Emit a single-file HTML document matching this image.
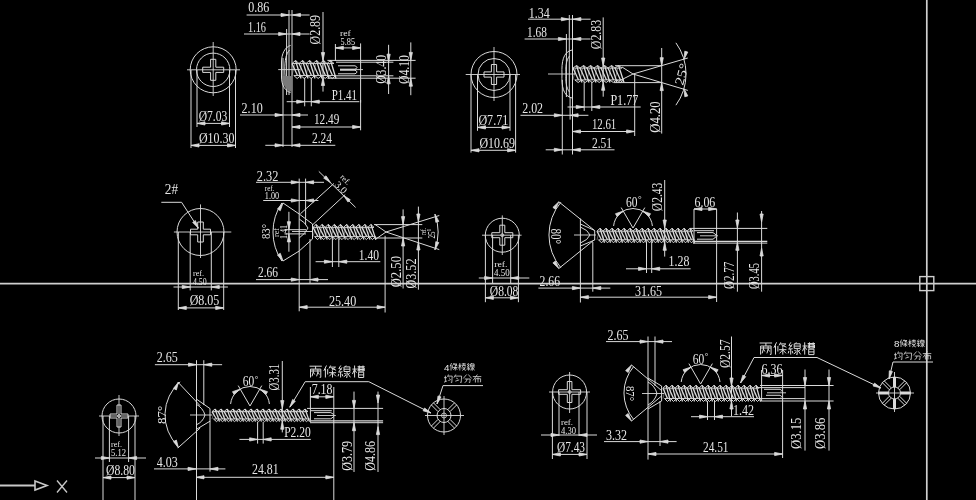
<!DOCTYPE html>
<html><head><meta charset="utf-8"><style>
html,body{margin:0;padding:0;background:#000;width:976px;height:500px;overflow:hidden}
svg{display:block;filter:grayscale(100%)}
text{font-family:"Liberation Serif",serif;fill:#e6e6e6;stroke:none}
</style></head><body>
<svg width="976" height="500" viewBox="0 0 976 500">
<rect width="976" height="500" fill="#000"/>
<g stroke="#dadada" stroke-width="1" fill="none" stroke-linecap="butt">
<g stroke="#cfcfcf" stroke-width="1.7">
<line x1="0" y1="283.7" x2="976" y2="283.7" stroke-width="1.7"/>
<line x1="926.8" y1="0" x2="926.8" y2="500" stroke-width="1.7"/>
<rect x="919.8" y="276.6" width="14" height="14" fill="none" stroke-width="1.4"/>
</g>
<g stroke="#c8c8c8" stroke-width="1.6">
<line x1="0" y1="485.5" x2="35" y2="485.5" stroke-width="2"/>
<path d="M35 481 L47 485.5 L35 490Z"/>
<line x1="57" y1="480.5" x2="67" y2="492.5" stroke-width="1.3"/>
<line x1="67" y1="480.5" x2="57" y2="492.5" stroke-width="1.3"/>
</g>
<circle cx="213.2" cy="69.8" r="23"/>
<circle cx="213.2" cy="69.8" r="16.7"/>
<line x1="187" y1="69.8" x2="240" y2="69.8" stroke-width="0.9"/>
<line x1="213.2" y1="42" x2="213.2" y2="96" stroke-width="0.9"/>
<path d="M210.6 59.3 L215.8 59.3 L215.8 67.2 L223.7 67.2 L223.7 72.4 L215.8 72.4 L215.8 80.3 L210.6 80.3 L210.6 72.4 L202.7 72.4 L202.7 67.2 L210.6 67.2Z"/>
<line x1="191" y1="70" x2="191" y2="148"/>
<line x1="235.5" y1="70" x2="235.5" y2="148"/>
<line x1="197" y1="70" x2="197" y2="127"/>
<line x1="229.5" y1="70" x2="229.5" y2="127"/>
<line x1="197" y1="123.4" x2="229.5" y2="123.4"/>
<path d="M197 123.4 L205 121.8 L205 125Z" fill="#dadada" stroke-width="0.8"/>
<path d="M229.5 123.4 L221.5 125 L221.5 121.8Z" fill="#dadada" stroke-width="0.8"/>
<text x="198.7" y="120.8" font-size="14" textLength="28.6" lengthAdjust="spacingAndGlyphs">Ø7.03</text>
<line x1="191" y1="145.4" x2="235.5" y2="145.4"/>
<path d="M191 145.4 L199 143.8 L199 147Z" fill="#dadada" stroke-width="0.8"/>
<path d="M235.5 145.4 L227.5 147 L227.5 143.8Z" fill="#dadada" stroke-width="0.8"/>
<text x="199" y="143.4" font-size="14" textLength="35.5" lengthAdjust="spacingAndGlyphs">Ø10.30</text>
<text x="248.2" y="12.4" font-size="14" textLength="21" lengthAdjust="spacingAndGlyphs">0.86</text>
<line x1="246.6" y1="15" x2="309.6" y2="15"/>
<path d="M289 15 L281 16.6 L281 13.4Z" fill="#dadada" stroke-width="0.8"/>
<path d="M292.5 15 L300.5 13.4 L300.5 16.6Z" fill="#dadada" stroke-width="0.8"/>
<text x="248" y="31.8" font-size="14" textLength="18" lengthAdjust="spacingAndGlyphs">1.16</text>
<line x1="244" y1="34" x2="309.6" y2="34"/>
<path d="M286.6 34 L278.6 35.6 L278.6 32.4Z" fill="#dadada" stroke-width="0.8"/>
<path d="M292 34 L300 32.4 L300 35.6Z" fill="#dadada" stroke-width="0.8"/>
<line x1="289" y1="10" x2="289" y2="95"/>
<line x1="292" y1="10" x2="292" y2="147"/>
<line x1="286.6" y1="29" x2="286.6" y2="95"/>
<line x1="283" y1="58" x2="283" y2="147"/>
<path d="M290.6 45.4 C 285 47, 281.5 54, 281.5 62 L281.5 77 C 281.5 85, 285 91, 290.6 92.6" />
<path d="M289.5 50 C 286 54, 284.8 60, 284.8 69.6 C 284.8 79, 286 85, 289.5 89" />
<path d="M282.5 76 C 282.5 84, 285 89.5, 290 91.5 L292 91.5 L292 76 L289 76 Z" fill="#7a7a7a" stroke="none"/>
<line x1="278.2" y1="69.6" x2="300" y2="69.6" stroke-width="0.9"/>
<path d="M292 63.5 L295.5 60.5 L299 63.5 L302.5 60.5 L306 63.5 L309.5 60.5 L313 63.5 L316.5 60.5 L320 63.5 L323.5 60.5 L327 63.5 L330.5 60.5 L334 63.5"/>
<path d="M293.8 75.5 L297.2 78.5 L300.8 75.5 L304.2 78.5 L307.8 75.5 L311.2 78.5 L314.8 75.5 L318.2 78.5 L321.8 75.5 L325.2 78.5 L328.8 75.5 L332.2 78.5 L335.8 75.5"/>
<line x1="292" y1="63.5" x2="334" y2="63.5" stroke-width="0.9"/>
<line x1="293.8" y1="75.5" x2="335.8" y2="75.5" stroke-width="0.9"/>
<line x1="295.5" y1="60.5" x2="301" y2="78.5" stroke-width="1.3"/>
<line x1="292" y1="63.5" x2="297.5" y2="75.5" stroke-width="1.3"/>
<line x1="294.8" y1="63.5" x2="292" y2="75.5" stroke-width="0.8" opacity="0.55"/>
<line x1="302.5" y1="60.5" x2="308" y2="78.5" stroke-width="1.3"/>
<line x1="299" y1="63.5" x2="304.5" y2="75.5" stroke-width="1.3"/>
<line x1="301.8" y1="63.5" x2="299" y2="75.5" stroke-width="0.8" opacity="0.55"/>
<line x1="309.5" y1="60.5" x2="315" y2="78.5" stroke-width="1.3"/>
<line x1="306" y1="63.5" x2="311.5" y2="75.5" stroke-width="1.3"/>
<line x1="308.8" y1="63.5" x2="306" y2="75.5" stroke-width="0.8" opacity="0.55"/>
<line x1="316.5" y1="60.5" x2="322" y2="78.5" stroke-width="1.3"/>
<line x1="313" y1="63.5" x2="318.5" y2="75.5" stroke-width="1.3"/>
<line x1="315.8" y1="63.5" x2="313" y2="75.5" stroke-width="0.8" opacity="0.55"/>
<line x1="323.5" y1="60.5" x2="329" y2="78.5" stroke-width="1.3"/>
<line x1="320" y1="63.5" x2="325.5" y2="75.5" stroke-width="1.3"/>
<line x1="322.8" y1="63.5" x2="320" y2="75.5" stroke-width="0.8" opacity="0.55"/>
<line x1="330.5" y1="60.5" x2="336" y2="78.5" stroke-width="1.3"/>
<line x1="327" y1="63.5" x2="332.5" y2="75.5" stroke-width="1.3"/>
<line x1="329.8" y1="63.5" x2="327" y2="75.5" stroke-width="0.8" opacity="0.55"/>
<line x1="327.4" y1="60.4" x2="415.6" y2="60.4"/>
<line x1="327.4" y1="78.2" x2="415.6" y2="78.2"/>
<line x1="336" y1="62.2" x2="393.4" y2="62.2"/>
<line x1="336" y1="75.8" x2="393.4" y2="75.8"/>
<path d="M338 65.8 L355 65.8 Q359 67.5 355 69.2 L340 69.2" />
<path d="M340 70.2 L355 70.2 Q359 72 355 73.8 L338 73.8" />
<line x1="340" y1="69.6" x2="363" y2="69.6" stroke-width="0.9"/>
<line x1="304.7" y1="78" x2="304.7" y2="106.3"/>
<line x1="311.3" y1="78" x2="311.3" y2="106.3"/>
<line x1="286.7" y1="101.7" x2="359.3" y2="101.7"/>
<path d="M304.7 101.7 L296.7 103.3 L296.7 100.1Z" fill="#dadada" stroke-width="0.8"/>
<path d="M311.3 101.7 L319.3 100.1 L319.3 103.3Z" fill="#dadada" stroke-width="0.8"/>
<text x="331.8" y="100" font-size="14" textLength="25.2" lengthAdjust="spacingAndGlyphs">P1.41</text>
<line x1="323" y1="12" x2="323" y2="91.6"/>
<path d="M323 60.5 L321.4 52.5 L324.6 52.5Z" fill="#dadada" stroke-width="0.8"/>
<path d="M323 77.5 L324.6 85.5 L321.4 85.5Z" fill="#dadada" stroke-width="0.8"/>
<text transform="translate(319.8 44.4) rotate(-90)" font-size="14" textLength="29.4" lengthAdjust="spacingAndGlyphs">Ø2.89</text>
<text x="339.9" y="36" font-size="9" textLength="10.8" lengthAdjust="spacingAndGlyphs">ref</text>
<text x="340.6" y="45.4" font-size="11" textLength="14.4" lengthAdjust="spacingAndGlyphs">5.85</text>
<line x1="335.4" y1="44" x2="335.4" y2="61"/>
<line x1="360.6" y1="43.4" x2="360.6" y2="102.7"/>
<line x1="335.4" y1="47.9" x2="360.6" y2="47.9"/>
<path d="M335.4 47.9 L343.4 46.3 L343.4 49.5Z" fill="#dadada" stroke-width="0.8"/>
<path d="M360.6 47.9 L352.6 49.5 L352.6 46.3Z" fill="#dadada" stroke-width="0.8"/>
<line x1="388.6" y1="44.8" x2="388.6" y2="94"/>
<path d="M388.6 62.2 L387 54.2 L390.2 54.2Z" fill="#dadada" stroke-width="0.8"/>
<path d="M388.6 75.8 L390.2 83.8 L387 83.8Z" fill="#dadada" stroke-width="0.8"/>
<text transform="translate(386.1 83.8) rotate(-90)" font-size="14" textLength="28.8" lengthAdjust="spacingAndGlyphs">Ø3.40</text>
<line x1="410.8" y1="42.4" x2="410.8" y2="95.2"/>
<path d="M410.8 60.4 L409.2 52.4 L412.4 52.4Z" fill="#dadada" stroke-width="0.8"/>
<path d="M410.8 78.2 L412.4 86.2 L409.2 86.2Z" fill="#dadada" stroke-width="0.8"/>
<text transform="translate(408.9 84) rotate(-90)" font-size="14" textLength="29" lengthAdjust="spacingAndGlyphs">Ø4.10</text>
<text x="241.6" y="113" font-size="14" textLength="21.1" lengthAdjust="spacingAndGlyphs">2.10</text>
<line x1="240" y1="115" x2="308" y2="115"/>
<path d="M283 115 L275 116.6 L275 113.4Z" fill="#dadada" stroke-width="0.8"/>
<path d="M292 115 L300 113.4 L300 116.6Z" fill="#dadada" stroke-width="0.8"/>
<text x="314" y="124.3" font-size="14" textLength="25.3" lengthAdjust="spacingAndGlyphs">12.49</text>
<line x1="292" y1="127" x2="360.6" y2="127"/>
<path d="M292 127 L300 125.4 L300 128.6Z" fill="#dadada" stroke-width="0.8"/>
<path d="M360.6 127 L352.6 128.6 L352.6 125.4Z" fill="#dadada" stroke-width="0.8"/>
<line x1="360.6" y1="100" x2="360.6" y2="130.3"/>
<text x="312" y="143.4" font-size="14" textLength="20" lengthAdjust="spacingAndGlyphs">2.24</text>
<line x1="265.3" y1="145.3" x2="335.3" y2="145.3"/>
<path d="M283 145.3 L275 146.9 L275 143.7Z" fill="#dadada" stroke-width="0.8"/>
<path d="M292 145.3 L300 143.7 L300 146.9Z" fill="#dadada" stroke-width="0.8"/>
<circle cx="494" cy="74.5" r="23"/>
<circle cx="494" cy="74.5" r="16"/>
<line x1="465.7" y1="74.5" x2="520" y2="74.5" stroke-width="0.9"/>
<line x1="494" y1="47" x2="494" y2="101" stroke-width="0.9"/>
<path d="M491.4 64.5 L496.6 64.5 L496.6 71.9 L504 71.9 L504 77.1 L496.6 77.1 L496.6 84.5 L491.4 84.5 L491.4 77.1 L484 77.1 L484 71.9 L491.4 71.9Z"/>
<line x1="471" y1="74.5" x2="471" y2="152.6"/>
<line x1="515.6" y1="74.5" x2="515.6" y2="152.6"/>
<line x1="477.5" y1="74.5" x2="477.5" y2="130.8"/>
<line x1="510" y1="74.5" x2="510" y2="130.8"/>
<line x1="477.5" y1="127.4" x2="510" y2="127.4"/>
<path d="M477.5 127.4 L485.5 125.8 L485.5 129Z" fill="#dadada" stroke-width="0.8"/>
<path d="M510 127.4 L502 129 L502 125.8Z" fill="#dadada" stroke-width="0.8"/>
<text x="478.4" y="125" font-size="14" textLength="29.9" lengthAdjust="spacingAndGlyphs">Ø7.71</text>
<line x1="471" y1="150.3" x2="515.6" y2="150.3"/>
<path d="M471 150.3 L479 148.7 L479 151.9Z" fill="#dadada" stroke-width="0.8"/>
<path d="M515.6 150.3 L507.6 151.9 L507.6 148.7Z" fill="#dadada" stroke-width="0.8"/>
<text x="479.5" y="148" font-size="14" textLength="35.5" lengthAdjust="spacingAndGlyphs">Ø10.69</text>
<text x="528.8" y="17.8" font-size="14" textLength="21" lengthAdjust="spacingAndGlyphs">1.34</text>
<line x1="528" y1="19.2" x2="590.6" y2="19.2"/>
<path d="M569.3 19.2 L561.3 20.8 L561.3 17.6Z" fill="#dadada" stroke-width="0.8"/>
<path d="M572.9 19.2 L580.9 17.6 L580.9 20.8Z" fill="#dadada" stroke-width="0.8"/>
<text x="527" y="36.6" font-size="14" textLength="19.8" lengthAdjust="spacingAndGlyphs">1.68</text>
<line x1="524.6" y1="39" x2="590.6" y2="39"/>
<path d="M566.4 39 L558.4 40.6 L558.4 37.4Z" fill="#dadada" stroke-width="0.8"/>
<path d="M572.9 39 L580.9 37.4 L580.9 40.6Z" fill="#dadada" stroke-width="0.8"/>
<line x1="569.3" y1="15" x2="569.3" y2="97"/>
<line x1="572.5" y1="15" x2="572.5" y2="154.5"/>
<line x1="566.4" y1="34" x2="566.4" y2="97"/>
<line x1="562.3" y1="80" x2="562.3" y2="154.5"/>
<path d="M572 50 C 563 52, 561.5 62, 562 74 C 561.5 86, 563 96, 572 98" />
<path d="M569.5 56 C 566 60, 565.5 68, 566 74 C 565.5 80, 566 88, 569.5 92" />
<line x1="548" y1="74" x2="575" y2="74" stroke-width="0.9"/>
<line x1="622" y1="67" x2="633" y2="74"/>
<line x1="619" y1="81" x2="633" y2="74"/>
<path d="M573 68.1 L576.5 65.5 L580 68.1 L583.5 65.5 L587 68.1 L590.5 65.5 L594 68.1 L597.5 65.5 L601 68.1 L604.5 65.5 L608 68.1 L611.5 65.5 L615 68.1 L618.5 65.5 L622 68.1"/>
<path d="M574.8 79.9 L578.2 82.5 L581.8 79.9 L585.2 82.5 L588.8 79.9 L592.2 82.5 L595.8 79.9 L599.2 82.5 L602.8 79.9 L606.2 82.5 L609.8 79.9 L613.2 82.5 L616.8 79.9 L620.2 82.5 L623.8 79.9"/>
<line x1="573" y1="68.1" x2="622" y2="68.1" stroke-width="0.9"/>
<line x1="574.8" y1="79.9" x2="623.8" y2="79.9" stroke-width="0.9"/>
<line x1="576.5" y1="65.5" x2="582" y2="82.5" stroke-width="1.3"/>
<line x1="573" y1="68.1" x2="578.5" y2="79.9" stroke-width="1.3"/>
<line x1="575.8" y1="68.1" x2="573" y2="79.9" stroke-width="0.8" opacity="0.55"/>
<line x1="583.5" y1="65.5" x2="589" y2="82.5" stroke-width="1.3"/>
<line x1="580" y1="68.1" x2="585.5" y2="79.9" stroke-width="1.3"/>
<line x1="582.8" y1="68.1" x2="580" y2="79.9" stroke-width="0.8" opacity="0.55"/>
<line x1="590.5" y1="65.5" x2="596" y2="82.5" stroke-width="1.3"/>
<line x1="587" y1="68.1" x2="592.5" y2="79.9" stroke-width="1.3"/>
<line x1="589.8" y1="68.1" x2="587" y2="79.9" stroke-width="0.8" opacity="0.55"/>
<line x1="597.5" y1="65.5" x2="603" y2="82.5" stroke-width="1.3"/>
<line x1="594" y1="68.1" x2="599.5" y2="79.9" stroke-width="1.3"/>
<line x1="596.8" y1="68.1" x2="594" y2="79.9" stroke-width="0.8" opacity="0.55"/>
<line x1="604.5" y1="65.5" x2="610" y2="82.5" stroke-width="1.3"/>
<line x1="601" y1="68.1" x2="606.5" y2="79.9" stroke-width="1.3"/>
<line x1="603.8" y1="68.1" x2="601" y2="79.9" stroke-width="0.8" opacity="0.55"/>
<line x1="611.5" y1="65.5" x2="617" y2="82.5" stroke-width="1.3"/>
<line x1="608" y1="68.1" x2="613.5" y2="79.9" stroke-width="1.3"/>
<line x1="610.8" y1="68.1" x2="608" y2="79.9" stroke-width="0.8" opacity="0.55"/>
<line x1="618.5" y1="65.5" x2="624" y2="82.5" stroke-width="1.3"/>
<line x1="615" y1="68.1" x2="620.5" y2="79.9" stroke-width="1.3"/>
<line x1="617.8" y1="68.1" x2="615" y2="79.9" stroke-width="0.8" opacity="0.55"/>
<line x1="633" y1="74" x2="687.8" y2="58"/>
<line x1="633" y1="74" x2="687.8" y2="90.4"/>
<line x1="615" y1="65.7" x2="661.7" y2="65.7"/>
<line x1="614" y1="82.6" x2="661.7" y2="82.6"/>
<line x1="634.7" y1="74" x2="634.7" y2="136"/>
<line x1="661.7" y1="48" x2="661.7" y2="133.6"/>
<path d="M661.7 65.7 L660.1 57.7 L663.3 57.7Z" fill="#dadada" stroke-width="0.8"/>
<path d="M661.7 82.6 L663.3 90.6 L660.1 90.6Z" fill="#dadada" stroke-width="0.8"/>
<text transform="translate(660.2 132.7) rotate(-90)" font-size="14" textLength="31.4" lengthAdjust="spacingAndGlyphs">Ø4.20</text>
<line x1="603.2" y1="17.4" x2="603.2" y2="96.7"/>
<path d="M603.2 66 L601.6 58 L604.8 58Z" fill="#dadada" stroke-width="0.8"/>
<path d="M603.2 82.3 L604.8 90.3 L601.6 90.3Z" fill="#dadada" stroke-width="0.8"/>
<text transform="translate(601.4 49.2) rotate(-90)" font-size="14" textLength="29.4" lengthAdjust="spacingAndGlyphs">Ø2.83</text>
<path d="M675.9 42.8 A53 53 0 0 1 675.9 105.2"/>
<path d="M684 59.3 L684.8 51.2 L687.8 52.1Z" fill="#dadada" stroke-width="0.8"/>
<path d="M684 88.7 L687.8 95.9 L684.8 96.8Z" fill="#dadada" stroke-width="0.8"/>
<text transform="translate(683 86) rotate(-75)" font-size="13" textLength="22" lengthAdjust="spacingAndGlyphs">25°</text>
<line x1="584.2" y1="82" x2="584.2" y2="111"/>
<line x1="591.8" y1="82" x2="591.8" y2="111"/>
<line x1="567.5" y1="107" x2="640.7" y2="107"/>
<path d="M584.2 107 L576.2 108.6 L576.2 105.4Z" fill="#dadada" stroke-width="0.8"/>
<path d="M591.8 107 L599.8 105.4 L599.8 108.6Z" fill="#dadada" stroke-width="0.8"/>
<text x="610.4" y="104.8" font-size="14" textLength="27.9" lengthAdjust="spacingAndGlyphs">P1.77</text>
<line x1="572.5" y1="131.5" x2="634.6" y2="131.5"/>
<path d="M572.5 131.5 L580.5 129.9 L580.5 133.1Z" fill="#dadada" stroke-width="0.8"/>
<path d="M634.6 131.5 L626.6 133.1 L626.6 129.9Z" fill="#dadada" stroke-width="0.8"/>
<text x="591.9" y="129.2" font-size="14" textLength="24.4" lengthAdjust="spacingAndGlyphs">12.61</text>
<text x="522.2" y="112.6" font-size="14" textLength="20.9" lengthAdjust="spacingAndGlyphs">2.02</text>
<line x1="520.5" y1="115.3" x2="588.4" y2="115.3"/>
<path d="M562.3 115.3 L554.3 116.9 L554.3 113.7Z" fill="#dadada" stroke-width="0.8"/>
<path d="M570.1 115.3 L578.1 113.7 L578.1 116.9Z" fill="#dadada" stroke-width="0.8"/>
<line x1="570.1" y1="97" x2="570.1" y2="119.6"/>
<text x="591.9" y="147.5" font-size="14" textLength="20.1" lengthAdjust="spacingAndGlyphs">2.51</text>
<line x1="545.7" y1="149.8" x2="614.5" y2="149.8"/>
<path d="M562.3 149.8 L554.3 151.4 L554.3 148.2Z" fill="#dadada" stroke-width="0.8"/>
<path d="M572.4 149.8 L580.4 148.2 L580.4 151.4Z" fill="#dadada" stroke-width="0.8"/>
<circle cx="200.5" cy="232" r="23.5"/>
<line x1="173.9" y1="232" x2="231.3" y2="232" stroke-width="0.9"/>
<line x1="200.5" y1="204.4" x2="200.5" y2="258" stroke-width="0.9"/>
<path d="M197.7 222 L203.3 222 L203.3 229.2 L210.5 229.2 L210.5 234.8 L203.3 234.8 L203.3 242 L197.7 242 L197.7 234.8 L190.5 234.8 L190.5 229.2 L197.7 229.2Z"/>
<text x="164.8" y="193.9" font-size="14" textLength="13.3" lengthAdjust="spacingAndGlyphs">2#</text>
<path d="M161.3 202.3 L181.6 202.3 L198.4 228.2"/>
<path d="M198.4 228.2 L192.7 222.4 L195.4 220.6Z" fill="#dadada" stroke-width="0.8"/>
<line x1="178.3" y1="232" x2="178.3" y2="310"/>
<line x1="223.7" y1="232" x2="223.7" y2="310"/>
<line x1="190.2" y1="232" x2="190.2" y2="290.4"/>
<line x1="211.3" y1="232" x2="211.3" y2="290.4"/>
<text x="193" y="275.9" font-size="9" textLength="11.1" lengthAdjust="spacingAndGlyphs">ref.</text>
<text x="193" y="284.8" font-size="10" textLength="13.7" lengthAdjust="spacingAndGlyphs">4.50</text>
<line x1="173.5" y1="287" x2="227.9" y2="287"/>
<path d="M190.2 287 L182.2 288.6 L182.2 285.4Z" fill="#dadada" stroke-width="0.8"/>
<path d="M211.3 287 L219.3 285.4 L219.3 288.6Z" fill="#dadada" stroke-width="0.8"/>
<text x="189.7" y="304.8" font-size="14" textLength="29.7" lengthAdjust="spacingAndGlyphs">Ø8.05</text>
<line x1="178.3" y1="307.9" x2="223.7" y2="307.9"/>
<path d="M178.3 307.9 L186.3 306.3 L186.3 309.5Z" fill="#dadada" stroke-width="0.8"/>
<path d="M223.7 307.9 L215.7 309.5 L215.7 306.3Z" fill="#dadada" stroke-width="0.8"/>
<text x="256.8" y="180.7" font-size="14" textLength="21.6" lengthAdjust="spacingAndGlyphs">2.32</text>
<line x1="256" y1="182.3" x2="324" y2="182.3"/>
<path d="M299.2 182.3 L291.2 183.9 L291.2 180.7Z" fill="#dadada" stroke-width="0.8"/>
<path d="M305.6 182.3 L313.6 180.7 L313.6 183.9Z" fill="#dadada" stroke-width="0.8"/>
<line x1="299.2" y1="178.6" x2="299.2" y2="311.3"/>
<line x1="305.6" y1="178.6" x2="305.6" y2="225"/>
<text x="264.8" y="190.6" font-size="9" textLength="9.6" lengthAdjust="spacingAndGlyphs">ref.</text>
<text x="264.8" y="198.9" font-size="10" textLength="14.4" lengthAdjust="spacingAndGlyphs">1.00</text>
<line x1="263.2" y1="200.5" x2="318.4" y2="200.5"/>
<path d="M299.2 200.5 L291.2 202.1 L291.2 198.9Z" fill="#dadada" stroke-width="0.8"/>
<path d="M305.6 200.5 L313.6 198.9 L313.6 202.1Z" fill="#dadada" stroke-width="0.8"/>
<path d="M299.2 214 L312.5 224 L312.5 239 L299.2 251"/>
<path d="M299.2 219 Q305 222 308 228 Q305 234 299.2 238" />
<line x1="292" y1="231.5" x2="312" y2="231.5" stroke-width="0.9"/>
<path d="M281.9 261.1 A52 52 0 0 1 281.9 202.9"/>
<line x1="283" y1="203" x2="299.2" y2="214"/>
<line x1="283" y1="261" x2="299.2" y2="251"/>
<path d="M283 203 L280.3 210.7 L277.5 209Z" fill="#dadada" stroke-width="0.8"/>
<path d="M283 261 L277.5 255 L280.3 253.3Z" fill="#dadada" stroke-width="0.8"/>
<text transform="translate(269.8 239) rotate(-90)" font-size="13" textLength="15" lengthAdjust="spacingAndGlyphs">83°</text>
<line x1="288.9" y1="211.8" x2="288.9" y2="251.7"/>
<path d="M288.9 229.7 L287.3 221.7 L290.5 221.7Z" fill="#dadada" stroke-width="0.8"/>
<path d="M288.9 233.9 L290.5 241.9 L287.3 241.9Z" fill="#dadada" stroke-width="0.8"/>
<line x1="284.5" y1="229.7" x2="306" y2="229.7"/>
<line x1="284.5" y1="233.9" x2="306" y2="233.9"/>
<text transform="translate(279 237) rotate(-90)" font-size="9" textLength="9" lengthAdjust="spacingAndGlyphs">ref</text>
<text transform="translate(286.5 239) rotate(-90)" font-size="10" textLength="14" lengthAdjust="spacingAndGlyphs">1.41</text>
<line x1="300.4" y1="213.8" x2="334" y2="183.4"/>
<line x1="312.4" y1="225" x2="345.2" y2="194.6"/>
<line x1="318.8" y1="171.4" x2="355.6" y2="207.4"/>
<path d="M330.5 182.6 L323.7 178.1 L326 175.8Z" fill="#dadada" stroke-width="0.8"/>
<path d="M343.5 195.3 L350.3 199.8 L348 202.1Z" fill="#dadada" stroke-width="0.8"/>
<text transform="translate(339.7 177.5) rotate(45)" font-size="8" textLength="11" lengthAdjust="spacingAndGlyphs">ref.</text>
<text transform="translate(334.1 185.3) rotate(45)" font-size="10" textLength="13" lengthAdjust="spacingAndGlyphs">3.0</text>
<path d="M313 227.4 L316.1 224.4 L319.1 227.4 L322.2 224.4 L325.2 227.4 L328.2 224.4 L331.3 227.4 L334.4 224.4 L337.4 227.4 L340.4 224.4 L343.5 227.4 L346.6 224.4 L349.6 227.4 L352.7 224.4 L355.7 227.4 L358.8 224.4 L361.8 227.4 L364.9 224.4 L367.9 227.4 L370.9 224.4 L374 227.4"/>
<path d="M314.5 236.6 L317.6 239.6 L320.6 236.6 L323.7 239.6 L326.7 236.6 L329.8 239.6 L332.8 236.6 L335.9 239.6 L338.9 236.6 L342 239.6 L345 236.6 L348.1 239.6 L351.1 236.6 L354.2 239.6 L357.2 236.6 L360.3 239.6 L363.3 236.6 L366.4 239.6 L369.4 236.6 L372.5 239.6 L375.5 236.6"/>
<line x1="313" y1="227.4" x2="374" y2="227.4" stroke-width="0.9"/>
<line x1="314.5" y1="236.6" x2="375.5" y2="236.6" stroke-width="0.9"/>
<line x1="316.1" y1="224.4" x2="321.1" y2="239.6" stroke-width="1.3"/>
<line x1="313" y1="227.4" x2="318" y2="236.6" stroke-width="1.3"/>
<line x1="315.5" y1="227.4" x2="313" y2="236.6" stroke-width="0.8" opacity="0.55"/>
<line x1="322.2" y1="224.4" x2="327.2" y2="239.6" stroke-width="1.3"/>
<line x1="319.1" y1="227.4" x2="324.1" y2="236.6" stroke-width="1.3"/>
<line x1="321.6" y1="227.4" x2="319.1" y2="236.6" stroke-width="0.8" opacity="0.55"/>
<line x1="328.2" y1="224.4" x2="333.2" y2="239.6" stroke-width="1.3"/>
<line x1="325.2" y1="227.4" x2="330.2" y2="236.6" stroke-width="1.3"/>
<line x1="327.7" y1="227.4" x2="325.2" y2="236.6" stroke-width="0.8" opacity="0.55"/>
<line x1="334.4" y1="224.4" x2="339.4" y2="239.6" stroke-width="1.3"/>
<line x1="331.3" y1="227.4" x2="336.3" y2="236.6" stroke-width="1.3"/>
<line x1="333.8" y1="227.4" x2="331.3" y2="236.6" stroke-width="0.8" opacity="0.55"/>
<line x1="340.4" y1="224.4" x2="345.4" y2="239.6" stroke-width="1.3"/>
<line x1="337.4" y1="227.4" x2="342.4" y2="236.6" stroke-width="1.3"/>
<line x1="339.9" y1="227.4" x2="337.4" y2="236.6" stroke-width="0.8" opacity="0.55"/>
<line x1="346.6" y1="224.4" x2="351.6" y2="239.6" stroke-width="1.3"/>
<line x1="343.5" y1="227.4" x2="348.5" y2="236.6" stroke-width="1.3"/>
<line x1="346" y1="227.4" x2="343.5" y2="236.6" stroke-width="0.8" opacity="0.55"/>
<line x1="352.7" y1="224.4" x2="357.7" y2="239.6" stroke-width="1.3"/>
<line x1="349.6" y1="227.4" x2="354.6" y2="236.6" stroke-width="1.3"/>
<line x1="352.1" y1="227.4" x2="349.6" y2="236.6" stroke-width="0.8" opacity="0.55"/>
<line x1="358.8" y1="224.4" x2="363.8" y2="239.6" stroke-width="1.3"/>
<line x1="355.7" y1="227.4" x2="360.7" y2="236.6" stroke-width="1.3"/>
<line x1="358.2" y1="227.4" x2="355.7" y2="236.6" stroke-width="0.8" opacity="0.55"/>
<line x1="364.9" y1="224.4" x2="369.9" y2="239.6" stroke-width="1.3"/>
<line x1="361.8" y1="227.4" x2="366.8" y2="236.6" stroke-width="1.3"/>
<line x1="364.3" y1="227.4" x2="361.8" y2="236.6" stroke-width="0.8" opacity="0.55"/>
<line x1="370.9" y1="224.4" x2="375.9" y2="239.6" stroke-width="1.3"/>
<line x1="367.9" y1="227.4" x2="372.9" y2="236.6" stroke-width="1.3"/>
<line x1="370.4" y1="227.4" x2="367.9" y2="236.6" stroke-width="0.8" opacity="0.55"/>
<line x1="375" y1="224.4" x2="386" y2="232"/>
<line x1="375" y1="239.6" x2="386" y2="232"/>
<line x1="386" y1="232" x2="439.3" y2="215.5"/>
<line x1="386" y1="232" x2="439.3" y2="249.6"/>
<line x1="374" y1="224.6" x2="422.3" y2="224.6"/>
<line x1="374" y1="238" x2="422.3" y2="238"/>
<path d="M434.9 214.2 A52 52 0 0 1 434.9 249.8"/>
<path d="M435 214.2 L438.8 221.4 L435.8 222.3Z" fill="#dadada" stroke-width="0.8"/>
<path d="M435 249.8 L435.8 241.7 L438.8 242.6Z" fill="#dadada" stroke-width="0.8"/>
<text transform="translate(426.4 235) rotate(-90)" font-size="8" textLength="7" lengthAdjust="spacingAndGlyphs">ref.</text>
<text transform="translate(435.4 238.5) rotate(-90)" font-size="11" textLength="9.9" lengthAdjust="spacingAndGlyphs">25°</text>
<line x1="403.1" y1="209.4" x2="403.1" y2="288.5"/>
<path d="M403.1 224.6 L401.5 216.6 L404.7 216.6Z" fill="#dadada" stroke-width="0.8"/>
<path d="M403.1 238 L404.7 246 L401.5 246Z" fill="#dadada" stroke-width="0.8"/>
<text transform="translate(400.8 287.3) rotate(-90)" font-size="14" textLength="31.3" lengthAdjust="spacingAndGlyphs">Ø2.50</text>
<line x1="418.4" y1="206.6" x2="418.4" y2="289.7"/>
<path d="M418.4 222 L416.8 214 L420 214Z" fill="#dadada" stroke-width="0.8"/>
<path d="M418.4 242 L420 250 L416.8 250Z" fill="#dadada" stroke-width="0.8"/>
<text transform="translate(416.2 288.5) rotate(-90)" font-size="14" textLength="30" lengthAdjust="spacingAndGlyphs">Ø3.52</text>
<text x="358.8" y="259.7" font-size="14" textLength="20.3" lengthAdjust="spacingAndGlyphs">1.40</text>
<line x1="332.4" y1="239" x2="332.4" y2="267"/>
<line x1="338.8" y1="239" x2="338.8" y2="267"/>
<line x1="315.6" y1="261.7" x2="380.3" y2="261.7"/>
<path d="M332.4 261.7 L324.4 263.3 L324.4 260.1Z" fill="#dadada" stroke-width="0.8"/>
<path d="M338.8 261.7 L346.8 260.1 L346.8 263.3Z" fill="#dadada" stroke-width="0.8"/>
<text x="328.9" y="306" font-size="14" textLength="27.3" lengthAdjust="spacingAndGlyphs">25.40</text>
<line x1="385.1" y1="235.8" x2="385.1" y2="312.5"/>
<line x1="299.2" y1="307.2" x2="385.1" y2="307.2"/>
<path d="M299.2 307.2 L307.2 305.6 L307.2 308.8Z" fill="#dadada" stroke-width="0.8"/>
<path d="M385.1 307.2 L377.1 308.8 L377.1 305.6Z" fill="#dadada" stroke-width="0.8"/>
<text x="258" y="277" font-size="14" textLength="20" lengthAdjust="spacingAndGlyphs">2.66</text>
<line x1="310" y1="239" x2="310" y2="283"/>
<line x1="256" y1="279.6" x2="328" y2="279.6"/>
<path d="M299.2 279.6 L291.2 281.2 L291.2 278Z" fill="#dadada" stroke-width="0.8"/>
<path d="M310 279.6 L318 278 L318 281.2Z" fill="#dadada" stroke-width="0.8"/>
<circle cx="502.3" cy="235.2" r="17"/>
<line x1="482" y1="235.2" x2="521.6" y2="235.2" stroke-width="0.9"/>
<line x1="502.3" y1="215.4" x2="502.3" y2="255" stroke-width="0.9"/>
<path d="M499.8 225.2 L504.8 225.2 L504.8 232.7 L512.8 232.7 L512.8 237.7 L504.8 237.7 L504.8 245.2 L499.8 245.2 L499.8 237.7 L491.8 237.7 L491.8 232.7 L499.8 232.7Z"/>
<circle cx="502.3" cy="235.2" r="1.5" stroke-width="0.8"/>
<line x1="485.4" y1="235" x2="485.4" y2="302.2"/>
<line x1="518.4" y1="235" x2="518.4" y2="302.2"/>
<line x1="492.6" y1="235" x2="492.6" y2="283.5"/>
<line x1="510.7" y1="235" x2="510.7" y2="283.5"/>
<text x="494.2" y="267" font-size="9" textLength="13.2" lengthAdjust="spacingAndGlyphs">ref.</text>
<text x="494" y="275.8" font-size="10" textLength="15.6" lengthAdjust="spacingAndGlyphs">4.50</text>
<line x1="478.8" y1="278" x2="529.3" y2="278"/>
<path d="M492.6 278 L484.6 279.6 L484.6 276.4Z" fill="#dadada" stroke-width="0.8"/>
<path d="M510.7 278 L518.7 276.4 L518.7 279.6Z" fill="#dadada" stroke-width="0.8"/>
<text x="489.8" y="295.6" font-size="14" textLength="28.6" lengthAdjust="spacingAndGlyphs">Ø8.08</text>
<line x1="485.4" y1="297.8" x2="518.4" y2="297.8"/>
<path d="M485.4 297.8 L493.4 296.2 L493.4 299.4Z" fill="#dadada" stroke-width="0.8"/>
<path d="M518.4 297.8 L510.4 299.4 L510.4 296.2Z" fill="#dadada" stroke-width="0.8"/>
<line x1="580.4" y1="218.6" x2="580.4" y2="302.5"/>
<path d="M580.4 224 L594.7 230.5 L594.7 240 L580.4 246"/>
<path d="M580.4 227 Q588 230 590 235 Q588 240 580.4 243" />
<line x1="574" y1="235" x2="596" y2="235" stroke-width="0.9"/>
<path d="M560.9 267.8 A51 51 0 0 1 560.9 202.2"/>
<line x1="558.8" y1="201.8" x2="594.7" y2="230.6"/>
<line x1="558.8" y1="268.5" x2="594.7" y2="239.5"/>
<path d="M558.8 201.8 L555.5 209.3 L552.9 207.4Z" fill="#dadada" stroke-width="0.8"/>
<path d="M558.8 268.5 L552.9 262.9 L555.5 261Z" fill="#dadada" stroke-width="0.8"/>
<text transform="translate(551.2 228.5) rotate(90)" font-size="14" textLength="15.5" lengthAdjust="spacingAndGlyphs">80°</text>
<path d="M597 231.2 L600 228.2 L603 231.2 L606 228.2 L609 231.2 L612 228.2 L615 231.2 L618 228.2 L621 231.2 L624 228.2 L627 231.2 L630 228.2 L633 231.2 L636 228.2 L639 231.2 L642 228.2 L645 231.2 L648 228.2 L651 231.2 L654 228.2 L657 231.2 L660 228.2 L663 231.2 L666 228.2 L669 231.2 L672 228.2 L675 231.2 L678 228.2 L681 231.2 L684 228.2 L687 231.2 L690 228.2 L693 231.2"/>
<path d="M598.5 239.8 L601.5 242.8 L604.5 239.8 L607.5 242.8 L610.5 239.8 L613.5 242.8 L616.5 239.8 L619.5 242.8 L622.5 239.8 L625.5 242.8 L628.5 239.8 L631.5 242.8 L634.5 239.8 L637.5 242.8 L640.5 239.8 L643.5 242.8 L646.5 239.8 L649.5 242.8 L652.5 239.8 L655.5 242.8 L658.5 239.8 L661.5 242.8 L664.5 239.8 L667.5 242.8 L670.5 239.8 L673.5 242.8 L676.5 239.8 L679.5 242.8 L682.5 239.8 L685.5 242.8 L688.5 239.8 L691.5 242.8 L694.5 239.8"/>
<line x1="597" y1="231.2" x2="693" y2="231.2" stroke-width="0.9"/>
<line x1="598.5" y1="239.8" x2="694.5" y2="239.8" stroke-width="0.9"/>
<line x1="600" y1="228.2" x2="604.5" y2="242.8" stroke-width="1.3"/>
<line x1="597" y1="231.2" x2="601.5" y2="239.8" stroke-width="1.3"/>
<line x1="599.2" y1="231.2" x2="597" y2="239.8" stroke-width="0.8" opacity="0.55"/>
<line x1="606" y1="228.2" x2="610.5" y2="242.8" stroke-width="1.3"/>
<line x1="603" y1="231.2" x2="607.5" y2="239.8" stroke-width="1.3"/>
<line x1="605.2" y1="231.2" x2="603" y2="239.8" stroke-width="0.8" opacity="0.55"/>
<line x1="612" y1="228.2" x2="616.5" y2="242.8" stroke-width="1.3"/>
<line x1="609" y1="231.2" x2="613.5" y2="239.8" stroke-width="1.3"/>
<line x1="611.2" y1="231.2" x2="609" y2="239.8" stroke-width="0.8" opacity="0.55"/>
<line x1="618" y1="228.2" x2="622.5" y2="242.8" stroke-width="1.3"/>
<line x1="615" y1="231.2" x2="619.5" y2="239.8" stroke-width="1.3"/>
<line x1="617.2" y1="231.2" x2="615" y2="239.8" stroke-width="0.8" opacity="0.55"/>
<line x1="624" y1="228.2" x2="628.5" y2="242.8" stroke-width="1.3"/>
<line x1="621" y1="231.2" x2="625.5" y2="239.8" stroke-width="1.3"/>
<line x1="623.2" y1="231.2" x2="621" y2="239.8" stroke-width="0.8" opacity="0.55"/>
<line x1="630" y1="228.2" x2="634.5" y2="242.8" stroke-width="1.3"/>
<line x1="627" y1="231.2" x2="631.5" y2="239.8" stroke-width="1.3"/>
<line x1="629.2" y1="231.2" x2="627" y2="239.8" stroke-width="0.8" opacity="0.55"/>
<line x1="636" y1="228.2" x2="640.5" y2="242.8" stroke-width="1.3"/>
<line x1="633" y1="231.2" x2="637.5" y2="239.8" stroke-width="1.3"/>
<line x1="635.2" y1="231.2" x2="633" y2="239.8" stroke-width="0.8" opacity="0.55"/>
<line x1="642" y1="228.2" x2="646.5" y2="242.8" stroke-width="1.3"/>
<line x1="639" y1="231.2" x2="643.5" y2="239.8" stroke-width="1.3"/>
<line x1="641.2" y1="231.2" x2="639" y2="239.8" stroke-width="0.8" opacity="0.55"/>
<line x1="648" y1="228.2" x2="652.5" y2="242.8" stroke-width="1.3"/>
<line x1="645" y1="231.2" x2="649.5" y2="239.8" stroke-width="1.3"/>
<line x1="647.2" y1="231.2" x2="645" y2="239.8" stroke-width="0.8" opacity="0.55"/>
<line x1="654" y1="228.2" x2="658.5" y2="242.8" stroke-width="1.3"/>
<line x1="651" y1="231.2" x2="655.5" y2="239.8" stroke-width="1.3"/>
<line x1="653.2" y1="231.2" x2="651" y2="239.8" stroke-width="0.8" opacity="0.55"/>
<line x1="660" y1="228.2" x2="664.5" y2="242.8" stroke-width="1.3"/>
<line x1="657" y1="231.2" x2="661.5" y2="239.8" stroke-width="1.3"/>
<line x1="659.2" y1="231.2" x2="657" y2="239.8" stroke-width="0.8" opacity="0.55"/>
<line x1="666" y1="228.2" x2="670.5" y2="242.8" stroke-width="1.3"/>
<line x1="663" y1="231.2" x2="667.5" y2="239.8" stroke-width="1.3"/>
<line x1="665.2" y1="231.2" x2="663" y2="239.8" stroke-width="0.8" opacity="0.55"/>
<line x1="672" y1="228.2" x2="676.5" y2="242.8" stroke-width="1.3"/>
<line x1="669" y1="231.2" x2="673.5" y2="239.8" stroke-width="1.3"/>
<line x1="671.2" y1="231.2" x2="669" y2="239.8" stroke-width="0.8" opacity="0.55"/>
<line x1="678" y1="228.2" x2="682.5" y2="242.8" stroke-width="1.3"/>
<line x1="675" y1="231.2" x2="679.5" y2="239.8" stroke-width="1.3"/>
<line x1="677.2" y1="231.2" x2="675" y2="239.8" stroke-width="0.8" opacity="0.55"/>
<line x1="684" y1="228.2" x2="688.5" y2="242.8" stroke-width="1.3"/>
<line x1="681" y1="231.2" x2="685.5" y2="239.8" stroke-width="1.3"/>
<line x1="683.2" y1="231.2" x2="681" y2="239.8" stroke-width="0.8" opacity="0.55"/>
<line x1="690" y1="228.2" x2="694.5" y2="242.8" stroke-width="1.3"/>
<line x1="687" y1="231.2" x2="691.5" y2="239.8" stroke-width="1.3"/>
<line x1="689.2" y1="231.2" x2="687" y2="239.8" stroke-width="0.8" opacity="0.55"/>
<line x1="690" y1="228.4" x2="767.3" y2="228.4"/>
<line x1="693" y1="243.1" x2="767.3" y2="243.1"/>
<line x1="694" y1="230.7" x2="714" y2="230.7"/>
<line x1="694" y1="241.3" x2="767.3" y2="241.3" stroke-width="1.2"/>
<path d="M697 232.6 L713 232.6 L716 234.8" />
<path d="M697 239.2 L713 239.2 L716 236.8" />
<line x1="700" y1="235.8" x2="718" y2="235.8" stroke-width="0.9"/>
<path d="M613.6 226 A19.5 19.5 0 0 1 652.4 226"/>
<line x1="633" y1="228" x2="621.2" y2="207.6"/>
<line x1="633" y1="228" x2="644.8" y2="207.6"/>
<path d="M623.2 211.1 L617.1 216.5 L615.5 213.7Z" fill="#dadada" stroke-width="0.8"/>
<path d="M642.8 211.1 L650.5 213.7 L648.9 216.5Z" fill="#dadada" stroke-width="0.8"/>
<text x="625.9" y="206.5" font-size="14" textLength="11.5" lengthAdjust="spacingAndGlyphs">60</text>
<text x="637.7" y="202" font-size="9" textLength="4" lengthAdjust="spacingAndGlyphs">°</text>
<line x1="664.7" y1="180" x2="664.7" y2="256.6"/>
<path d="M664.7 228 L663.1 220 L666.3 220Z" fill="#dadada" stroke-width="0.8"/>
<path d="M664.7 242.3 L666.3 250.3 L663.1 250.3Z" fill="#dadada" stroke-width="0.8"/>
<text transform="translate(661.6 211.2) rotate(-90)" font-size="14" textLength="28.6" lengthAdjust="spacingAndGlyphs">Ø2.43</text>
<text x="694.5" y="207.3" font-size="14" textLength="20.8" lengthAdjust="spacingAndGlyphs">6.06</text>
<line x1="694" y1="209" x2="716.6" y2="209"/>
<path d="M694 209 L702 207.4 L702 210.6Z" fill="#dadada" stroke-width="0.8"/>
<path d="M716.6 209 L708.6 210.6 L708.6 207.4Z" fill="#dadada" stroke-width="0.8"/>
<line x1="694" y1="209" x2="694" y2="243.6"/>
<line x1="716.6" y1="209" x2="716.6" y2="302"/>
<line x1="737.4" y1="212.5" x2="737.4" y2="291.7"/>
<path d="M737.4 228 L735.8 220 L739 220Z" fill="#dadada" stroke-width="0.8"/>
<path d="M737.4 242.3 L739 250.3 L735.8 250.3Z" fill="#dadada" stroke-width="0.8"/>
<text transform="translate(734.4 289) rotate(-90)" font-size="14" textLength="27.2" lengthAdjust="spacingAndGlyphs">Ø2.77</text>
<line x1="761.6" y1="211" x2="761.6" y2="291.7"/>
<path d="M761.6 222 L760 214 L763.2 214Z" fill="#dadada" stroke-width="0.8"/>
<path d="M761.6 248 L763.2 256 L760 256Z" fill="#dadada" stroke-width="0.8"/>
<text transform="translate(759 289) rotate(-90)" font-size="14" textLength="26" lengthAdjust="spacingAndGlyphs">Ø3.45</text>
<text x="668.6" y="265.7" font-size="14" textLength="20.8" lengthAdjust="spacingAndGlyphs">1.28</text>
<line x1="646.5" y1="242" x2="646.5" y2="273"/>
<line x1="651.7" y1="242" x2="651.7" y2="273"/>
<line x1="626" y1="268.8" x2="690.6" y2="268.8"/>
<path d="M646.5 268.8 L638.5 270.4 L638.5 267.2Z" fill="#dadada" stroke-width="0.8"/>
<path d="M651.7 268.8 L659.7 267.2 L659.7 270.4Z" fill="#dadada" stroke-width="0.8"/>
<text x="635" y="296" font-size="14" textLength="27" lengthAdjust="spacingAndGlyphs">31.65</text>
<line x1="580.4" y1="297.2" x2="716.6" y2="297.2"/>
<path d="M580.4 297.2 L588.4 295.6 L588.4 298.8Z" fill="#dadada" stroke-width="0.8"/>
<path d="M716.6 297.2 L708.6 298.8 L708.6 295.6Z" fill="#dadada" stroke-width="0.8"/>
<text x="539.6" y="285.7" font-size="14" textLength="20.4" lengthAdjust="spacingAndGlyphs">2.66</text>
<line x1="592.8" y1="242" x2="592.8" y2="291.7"/>
<line x1="538.4" y1="288.1" x2="610.3" y2="288.1"/>
<path d="M580.4 288.1 L572.4 289.7 L572.4 286.5Z" fill="#dadada" stroke-width="0.8"/>
<path d="M592.8 288.1 L600.8 286.5 L600.8 289.7Z" fill="#dadada" stroke-width="0.8"/>
<circle cx="119" cy="416" r="17"/>
<line x1="99" y1="416" x2="139" y2="416" stroke-width="0.9"/>
<line x1="119" y1="395" x2="119" y2="436" stroke-width="0.9"/>
<path d="M117 405 L121 405 L121 414 L128 414 L128 418 L121 418 L121 427 L117 427 L117 418 L110 418 L110 414 L117 414Z"/>
<circle cx="119" cy="416" r="1.5" stroke-width="0.8"/>
<line x1="103" y1="416" x2="103" y2="500"/>
<line x1="135" y1="416" x2="135" y2="500"/>
<line x1="109.4" y1="416" x2="109.4" y2="462"/>
<line x1="128.6" y1="416" x2="128.6" y2="462"/>
<text x="111" y="447" font-size="9" textLength="11" lengthAdjust="spacingAndGlyphs">ref.</text>
<text x="111" y="456.4" font-size="10" textLength="15" lengthAdjust="spacingAndGlyphs">5.12</text>
<line x1="95" y1="458" x2="146" y2="458"/>
<path d="M109.4 458 L101.4 459.6 L101.4 456.4Z" fill="#dadada" stroke-width="0.8"/>
<path d="M128.6 458 L136.6 456.4 L136.6 459.6Z" fill="#dadada" stroke-width="0.8"/>
<text x="106" y="475" font-size="14" textLength="29" lengthAdjust="spacingAndGlyphs">Ø8.80</text>
<line x1="103" y1="477.6" x2="135" y2="477.6"/>
<path d="M103 477.6 L111 476 L111 479.2Z" fill="#dadada" stroke-width="0.8"/>
<path d="M135 477.6 L127 479.2 L127 476Z" fill="#dadada" stroke-width="0.8"/>
<text x="156.8" y="362.4" font-size="14" textLength="21" lengthAdjust="spacingAndGlyphs">2.65</text>
<line x1="154.9" y1="364.7" x2="222.1" y2="364.7"/>
<path d="M196.5 364.7 L188.5 366.3 L188.5 363.1Z" fill="#dadada" stroke-width="0.8"/>
<path d="M203.8 364.7 L211.8 363.1 L211.8 366.3Z" fill="#dadada" stroke-width="0.8"/>
<line x1="196.5" y1="360.2" x2="196.5" y2="500"/>
<line x1="203.8" y1="360.2" x2="203.8" y2="405"/>
<path d="M196 398.8 L210 408.6 L210 421.2 L196 429.6"/>
<path d="M196 404 Q203 408 205 415 Q203 422 196 425" />
<line x1="190" y1="415" x2="212" y2="415" stroke-width="0.9"/>
<path d="M177.9 446.1 A44 44 0 0 1 180.1 381.8"/>
<line x1="177.8" y1="382" x2="200.2" y2="405.8"/>
<line x1="177.8" y1="448" x2="200.2" y2="428"/>
<path d="M178.5 382 L176.4 389.9 L173.5 388.4Z" fill="#dadada" stroke-width="0.8"/>
<path d="M178.5 448 L173.5 441.6 L176.4 440.1Z" fill="#dadada" stroke-width="0.8"/>
<text transform="translate(165.8 424) rotate(-90)" font-size="13" textLength="18.2" lengthAdjust="spacingAndGlyphs">87°</text>
<path d="M212 411.6 L215 409 L218 411.6 L221 409 L224 411.6 L227 409 L230 411.6 L233 409 L236 411.6 L239 409 L242 411.6 L245 409 L248 411.6 L251 409 L254 411.6 L257 409 L260 411.6 L263 409 L266 411.6 L269 409 L272 411.6 L275 409 L278 411.6 L281 409 L284 411.6 L287 409 L290 411.6 L293 409 L296 411.6 L299 409 L302 411.6 L305 409 L308 411.6"/>
<path d="M213.5 419 L216.5 421.6 L219.5 419 L222.5 421.6 L225.5 419 L228.5 421.6 L231.5 419 L234.5 421.6 L237.5 419 L240.5 421.6 L243.5 419 L246.5 421.6 L249.5 419 L252.5 421.6 L255.5 419 L258.5 421.6 L261.5 419 L264.5 421.6 L267.5 419 L270.5 421.6 L273.5 419 L276.5 421.6 L279.5 419 L282.5 421.6 L285.5 419 L288.5 421.6 L291.5 419 L294.5 421.6 L297.5 419 L300.5 421.6 L303.5 419 L306.5 421.6 L309.5 419"/>
<line x1="212" y1="411.6" x2="308" y2="411.6" stroke-width="0.9"/>
<line x1="213.5" y1="419" x2="309.5" y2="419" stroke-width="0.9"/>
<line x1="215" y1="409" x2="219.5" y2="421.6" stroke-width="1.3"/>
<line x1="212" y1="411.6" x2="216.5" y2="419" stroke-width="1.3"/>
<line x1="214.2" y1="411.6" x2="212" y2="419" stroke-width="0.8" opacity="0.55"/>
<line x1="221" y1="409" x2="225.5" y2="421.6" stroke-width="1.3"/>
<line x1="218" y1="411.6" x2="222.5" y2="419" stroke-width="1.3"/>
<line x1="220.2" y1="411.6" x2="218" y2="419" stroke-width="0.8" opacity="0.55"/>
<line x1="227" y1="409" x2="231.5" y2="421.6" stroke-width="1.3"/>
<line x1="224" y1="411.6" x2="228.5" y2="419" stroke-width="1.3"/>
<line x1="226.2" y1="411.6" x2="224" y2="419" stroke-width="0.8" opacity="0.55"/>
<line x1="233" y1="409" x2="237.5" y2="421.6" stroke-width="1.3"/>
<line x1="230" y1="411.6" x2="234.5" y2="419" stroke-width="1.3"/>
<line x1="232.2" y1="411.6" x2="230" y2="419" stroke-width="0.8" opacity="0.55"/>
<line x1="239" y1="409" x2="243.5" y2="421.6" stroke-width="1.3"/>
<line x1="236" y1="411.6" x2="240.5" y2="419" stroke-width="1.3"/>
<line x1="238.2" y1="411.6" x2="236" y2="419" stroke-width="0.8" opacity="0.55"/>
<line x1="245" y1="409" x2="249.5" y2="421.6" stroke-width="1.3"/>
<line x1="242" y1="411.6" x2="246.5" y2="419" stroke-width="1.3"/>
<line x1="244.2" y1="411.6" x2="242" y2="419" stroke-width="0.8" opacity="0.55"/>
<line x1="251" y1="409" x2="255.5" y2="421.6" stroke-width="1.3"/>
<line x1="248" y1="411.6" x2="252.5" y2="419" stroke-width="1.3"/>
<line x1="250.2" y1="411.6" x2="248" y2="419" stroke-width="0.8" opacity="0.55"/>
<line x1="257" y1="409" x2="261.5" y2="421.6" stroke-width="1.3"/>
<line x1="254" y1="411.6" x2="258.5" y2="419" stroke-width="1.3"/>
<line x1="256.2" y1="411.6" x2="254" y2="419" stroke-width="0.8" opacity="0.55"/>
<line x1="263" y1="409" x2="267.5" y2="421.6" stroke-width="1.3"/>
<line x1="260" y1="411.6" x2="264.5" y2="419" stroke-width="1.3"/>
<line x1="262.2" y1="411.6" x2="260" y2="419" stroke-width="0.8" opacity="0.55"/>
<line x1="269" y1="409" x2="273.5" y2="421.6" stroke-width="1.3"/>
<line x1="266" y1="411.6" x2="270.5" y2="419" stroke-width="1.3"/>
<line x1="268.2" y1="411.6" x2="266" y2="419" stroke-width="0.8" opacity="0.55"/>
<line x1="275" y1="409" x2="279.5" y2="421.6" stroke-width="1.3"/>
<line x1="272" y1="411.6" x2="276.5" y2="419" stroke-width="1.3"/>
<line x1="274.2" y1="411.6" x2="272" y2="419" stroke-width="0.8" opacity="0.55"/>
<line x1="281" y1="409" x2="285.5" y2="421.6" stroke-width="1.3"/>
<line x1="278" y1="411.6" x2="282.5" y2="419" stroke-width="1.3"/>
<line x1="280.2" y1="411.6" x2="278" y2="419" stroke-width="0.8" opacity="0.55"/>
<line x1="287" y1="409" x2="291.5" y2="421.6" stroke-width="1.3"/>
<line x1="284" y1="411.6" x2="288.5" y2="419" stroke-width="1.3"/>
<line x1="286.2" y1="411.6" x2="284" y2="419" stroke-width="0.8" opacity="0.55"/>
<line x1="293" y1="409" x2="297.5" y2="421.6" stroke-width="1.3"/>
<line x1="290" y1="411.6" x2="294.5" y2="419" stroke-width="1.3"/>
<line x1="292.2" y1="411.6" x2="290" y2="419" stroke-width="0.8" opacity="0.55"/>
<line x1="299" y1="409" x2="303.5" y2="421.6" stroke-width="1.3"/>
<line x1="296" y1="411.6" x2="300.5" y2="419" stroke-width="1.3"/>
<line x1="298.2" y1="411.6" x2="296" y2="419" stroke-width="0.8" opacity="0.55"/>
<line x1="305" y1="409" x2="309.5" y2="421.6" stroke-width="1.3"/>
<line x1="302" y1="411.6" x2="306.5" y2="419" stroke-width="1.3"/>
<line x1="304.2" y1="411.6" x2="302" y2="419" stroke-width="0.8" opacity="0.55"/>
<path d="M230.6 404 A19.5 19.5 0 0 1 269.4 404"/>
<line x1="250" y1="406" x2="238.2" y2="385.6"/>
<line x1="250" y1="406" x2="261.8" y2="385.6"/>
<path d="M240.2 389.1 L234.1 394.5 L232.5 391.7Z" fill="#dadada" stroke-width="0.8"/>
<path d="M259.8 389.1 L267.5 391.7 L265.9 394.5Z" fill="#dadada" stroke-width="0.8"/>
<text x="242.8" y="386.2" font-size="14" textLength="11.5" lengthAdjust="spacingAndGlyphs">60</text>
<text x="254.6" y="381.7" font-size="9" textLength="4" lengthAdjust="spacingAndGlyphs">°</text>
<line x1="282.3" y1="361" x2="282.3" y2="432.4"/>
<path d="M282.3 408.6 L280.7 400.6 L283.9 400.6Z" fill="#dadada" stroke-width="0.8"/>
<path d="M282.3 421.2 L283.9 429.2 L280.7 429.2Z" fill="#dadada" stroke-width="0.8"/>
<text transform="translate(279.1 390.4) rotate(-90)" font-size="14" textLength="26.6" lengthAdjust="spacingAndGlyphs">Ø3.31</text>
<text x="284.2" y="436.6" font-size="14" textLength="26.6" lengthAdjust="spacingAndGlyphs">P2.20</text>
<line x1="257.6" y1="422" x2="257.6" y2="443.6"/>
<line x1="263.2" y1="422" x2="263.2" y2="443.6"/>
<line x1="239.4" y1="439.4" x2="310.8" y2="439.4"/>
<path d="M257.6 439.4 L249.6 441 L249.6 437.8Z" fill="#dadada" stroke-width="0.8"/>
<path d="M263.2 439.4 L271.2 437.8 L271.2 441Z" fill="#dadada" stroke-width="0.8"/>
<text x="156.8" y="466.6" font-size="14" textLength="21" lengthAdjust="spacingAndGlyphs">4.03</text>
<line x1="210" y1="421" x2="210" y2="471.6"/>
<line x1="154" y1="468.9" x2="225.4" y2="468.9"/>
<path d="M196 468.9 L188 470.5 L188 467.3Z" fill="#dadada" stroke-width="0.8"/>
<path d="M210 468.9 L218 467.3 L218 470.5Z" fill="#dadada" stroke-width="0.8"/>
<text x="252" y="473.9" font-size="14" textLength="26.6" lengthAdjust="spacingAndGlyphs">24.81</text>
<line x1="196" y1="477.3" x2="333.8" y2="477.3"/>
<path d="M196 477.3 L204 475.7 L204 478.9Z" fill="#dadada" stroke-width="0.8"/>
<path d="M333.8 477.3 L325.8 478.9 L325.8 475.7Z" fill="#dadada" stroke-width="0.8"/>
<text x="311.7" y="394.2" font-size="14" textLength="20.8" lengthAdjust="spacingAndGlyphs">7.18</text>
<line x1="310.4" y1="396.8" x2="333.8" y2="396.8"/>
<path d="M310.4 396.8 L318.4 395.2 L318.4 398.4Z" fill="#dadada" stroke-width="0.8"/>
<path d="M333.8 396.8 L325.8 398.4 L325.8 395.2Z" fill="#dadada" stroke-width="0.8"/>
<line x1="310.4" y1="387" x2="310.4" y2="422"/>
<line x1="333.8" y1="387" x2="333.8" y2="500"/>
<line x1="307" y1="408.4" x2="383.1" y2="408.4"/>
<line x1="310" y1="422.7" x2="383.1" y2="422.7"/>
<line x1="311" y1="410.7" x2="331.8" y2="410.7"/>
<line x1="311" y1="420.9" x2="383.1" y2="420.9" stroke-width="1.2"/>
<path d="M314 412.6 L330.8 412.6 L333.8 414.5" />
<path d="M314 418.8 L330.8 418.8 L333.8 416.5" />
<line x1="317" y1="415.5" x2="335.8" y2="415.5" stroke-width="0.9"/>
<line x1="354" y1="391.6" x2="354" y2="472"/>
<path d="M354 408.4 L352.4 400.4 L355.6 400.4Z" fill="#dadada" stroke-width="0.8"/>
<path d="M354 422.7 L355.6 430.7 L352.4 430.7Z" fill="#dadada" stroke-width="0.8"/>
<text transform="translate(351.6 470.8) rotate(-90)" font-size="14" textLength="29.8" lengthAdjust="spacingAndGlyphs">Ø3.79</text>
<line x1="378" y1="391.6" x2="378" y2="472"/>
<path d="M378 403 L376.4 395 L379.6 395Z" fill="#dadada" stroke-width="0.8"/>
<path d="M378 426.6 L379.6 434.6 L376.4 434.6Z" fill="#dadada" stroke-width="0.8"/>
<text transform="translate(374.9 470.8) rotate(-90)" font-size="14" textLength="29.8" lengthAdjust="spacingAndGlyphs">Ø4.86</text>
<path d="M289.8 407.2 L305.2 381.7 L368.8 381.7 L431 413"/>
<path d="M289.8 407.2 L292.6 399.5 L295.3 401.2Z" fill="#dadada" stroke-width="0.8"/>
<path d="M431 413 L423.1 410.8 L424.6 408Z" fill="#dadada" stroke-width="0.8"/>
<path d="M309.5 366.2 L321.8 366.2" stroke-width="1.0"/>
<path d="M315.6 366.2 L315.6 369.1" stroke-width="1.0"/>
<path d="M310.5 377.5 L310.5 369.1 L320.8 369.1 L320.8 377.3 L319.6 377.3" stroke-width="1.0"/>
<path d="M313.2 369.3 L313.2 372.1 L312 376.3" stroke-width="1.0"/>
<path d="M313.2 372.1 L314.7 374.5" stroke-width="1.0"/>
<path d="M317.9 369.3 L317.9 372.1 L316.6 376.3" stroke-width="1.0"/>
<path d="M317.9 372.1 L319.3 374.5" stroke-width="1.0"/>
<path d="M310.7 371 L320.6 371" stroke-width="1.0"/>
<path d="M326.5 365.5 L323.8 370.9" stroke-width="1.0"/>
<path d="M325.4 368.5 L325.4 377.5" stroke-width="1.0"/>
<path d="M327.7 369.1 L327.7 374.5" stroke-width="1.0"/>
<path d="M330.6 365.5 L329 368.5" stroke-width="1.0"/>
<path d="M329.9 367.1 L335.5 367.1 L331.8 370.3" stroke-width="1.0"/>
<path d="M331.2 367.9 L336.1 370.3" stroke-width="1.0"/>
<path d="M329 372.7 L336.1 372.7" stroke-width="1.0"/>
<path d="M332.5 370.5 L332.5 377.5" stroke-width="1.0"/>
<path d="M332.5 372.9 L329.3 376.3" stroke-width="1.0"/>
<path d="M332.5 372.9 L335.9 376.3" stroke-width="1.0"/>
<path d="M340.8 365.5 L338.8 368.6 L341.8 369.3" stroke-width="1.0"/>
<path d="M342 367.4 L338.6 372.2 L342.5 371.7" stroke-width="1.0"/>
<path d="M340.6 372 L340.6 377.5" stroke-width="1.0"/>
<path d="M338.8 373.9 L338.1 376.3" stroke-width="1.0"/>
<path d="M342 373.9 L342.8 376.3" stroke-width="1.0"/>
<path d="M346.1 365.5 L345.5 366.9" stroke-width="1.0"/>
<path d="M344 366.9 L349.9 366.9 L349.9 371.5 L344 371.5 L344 366.9" stroke-width="1.0"/>
<path d="M344 369.2 L349.9 369.2" stroke-width="1.0"/>
<path d="M347 371.5 L347 377.5 L346 377" stroke-width="1.0"/>
<path d="M344.2 373.4 L346 374.1" stroke-width="1.0"/>
<path d="M343.8 376.8 L346.2 374.9" stroke-width="1.0"/>
<path d="M347.4 372.9 L350.4 377.3" stroke-width="1.0"/>
<path d="M350.2 372.5 L348.2 374.6" stroke-width="1.0"/>
<path d="M352.4 369.1 L356.8 369.1" stroke-width="1.0"/>
<path d="M354.6 365.5 L354.6 377.5" stroke-width="1.0"/>
<path d="M354.6 369.3 L352.4 374.1" stroke-width="1.0"/>
<path d="M354.6 369.8 L356.6 372.7" stroke-width="1.0"/>
<path d="M357.6 366.7 L364.7 366.7" stroke-width="1.0"/>
<path d="M359.3 365.5 L359.3 371" stroke-width="1.0"/>
<path d="M363 365.5 L363 371" stroke-width="1.0"/>
<path d="M358.1 367.9 L364.2 367.9 L364.2 371 L358.1 371 L358.1 367.9" stroke-width="1.0"/>
<path d="M358.1 369.5 L364.2 369.5" stroke-width="1.0"/>
<path d="M358.6 372.2 L363.7 372.2 L363.7 377.5 L358.6 377.5 L358.6 372.2" stroke-width="1.0"/>
<path d="M358.6 374.9 L363.7 374.9" stroke-width="1.0"/>
<text x="444" y="370.5" font-size="9.8" style="font-family:Liberation Sans">4</text>
<path d="M451.6 363 L450 366.4" stroke-width="0.8"/>
<path d="M451 364.9 L451 370.5" stroke-width="0.8"/>
<path d="M452.4 365.2 L452.4 368.6" stroke-width="0.8"/>
<path d="M454.1 363 L453.1 364.9" stroke-width="0.8"/>
<path d="M453.7 364 L457 364 L454.8 366" stroke-width="0.8"/>
<path d="M454.4 364.5 L457.4 366" stroke-width="0.8"/>
<path d="M453.1 367.5 L457.4 367.5" stroke-width="0.8"/>
<path d="M455.3 366.1 L455.3 370.5" stroke-width="0.8"/>
<path d="M455.3 367.6 L453.3 369.8" stroke-width="0.8"/>
<path d="M455.3 367.6 L457.3 369.8" stroke-width="0.8"/>
<path d="M458.5 365.2 L461.2 365.2" stroke-width="0.8"/>
<path d="M459.8 363 L459.8 370.5" stroke-width="0.8"/>
<path d="M459.8 365.4 L458.5 368.4" stroke-width="0.8"/>
<path d="M459.8 365.7 L461 367.5" stroke-width="0.8"/>
<path d="M461.8 363.9 L465.8 363.9" stroke-width="0.8"/>
<path d="M463.8 363 L463.8 365.4" stroke-width="0.8"/>
<path d="M461.5 365.4 L465.9 365.4" stroke-width="0.8"/>
<path d="M462.9 366.1 L461.9 367.2" stroke-width="0.8"/>
<path d="M464.6 366.1 L465.8 367.2" stroke-width="0.8"/>
<path d="M463.1 367.4 L461.9 368.7" stroke-width="0.8"/>
<path d="M462.8 367.9 L465.2 367.9 L462.2 370.5" stroke-width="0.8"/>
<path d="M463.2 369 L465.9 370.5" stroke-width="0.8"/>
<path d="M468.6 363 L467.4 364.9 L469.2 365.4" stroke-width="0.8"/>
<path d="M469.4 364.2 L467.3 367.2 L469.7 366.9" stroke-width="0.8"/>
<path d="M468.5 367.1 L468.5 370.5" stroke-width="0.8"/>
<path d="M467.4 368.2 L467 369.8" stroke-width="0.8"/>
<path d="M469.4 368.2 L469.8 369.8" stroke-width="0.8"/>
<path d="M471.8 363 L471.4 363.9" stroke-width="0.8"/>
<path d="M470.6 363.9 L474.1 363.9 L474.1 366.8 L470.6 366.8 L470.6 363.9" stroke-width="0.8"/>
<path d="M470.6 365.3 L474.1 365.3" stroke-width="0.8"/>
<path d="M472.3 366.8 L472.3 370.5 L471.7 370.2" stroke-width="0.8"/>
<path d="M470.7 367.9 L471.7 368.4" stroke-width="0.8"/>
<path d="M470.4 370.1 L471.9 368.9" stroke-width="0.8"/>
<path d="M472.6 367.6 L474.4 370.4" stroke-width="0.8"/>
<path d="M474.3 367.4 L473.1 368.7" stroke-width="0.8"/>
<path d="M444 377.7 L446.9 377.7" stroke-width="0.8"/>
<path d="M445.4 375.7 L445.4 381.4" stroke-width="0.8"/>
<path d="M444 382.2 L447.1 380.9" stroke-width="0.8"/>
<path d="M448.4 374.5 L447.6 376.9" stroke-width="0.8"/>
<path d="M447.9 376.1 L452.2 376.1 L451.8 382.5 L450.8 382.2" stroke-width="0.8"/>
<path d="M448.9 377.7 L449.9 378.5" stroke-width="0.8"/>
<path d="M448.4 380.6 L450.8 379.5" stroke-width="0.8"/>
<path d="M455.8 374.5 L453.9 377.7" stroke-width="0.8"/>
<path d="M454.8 376.1 L461.6 376.1 L461.2 382.5 L460.1 382.2" stroke-width="0.8"/>
<path d="M456.2 378 L457.9 379" stroke-width="0.8"/>
<path d="M455.3 381.2 L459.2 379.9" stroke-width="0.8"/>
<path d="M466.6 374.5 L463.2 378.5" stroke-width="0.8"/>
<path d="M468.3 374.5 L471.7 378.5" stroke-width="0.8"/>
<path d="M464.7 379 L470.2 379 L469.8 382.5 L468.8 382.2" stroke-width="0.8"/>
<path d="M467.1 379 L466.4 381.4 L464.6 382.5" stroke-width="0.8"/>
<path d="M472.8 376.6 L481.3 376.6" stroke-width="0.8"/>
<path d="M477.4 374.5 L473.1 380.4" stroke-width="0.8"/>
<path d="M475.4 378.7 L475.4 382.5" stroke-width="0.8"/>
<path d="M475.4 378.7 L480.6 378.7 L480.6 381.9 L479.8 381.9" stroke-width="0.8"/>
<path d="M478 377.4 L478 382.5" stroke-width="0.8"/>
<path d="M437 404 L443 385.6 L483 385.6"/>
<path d="M437 404 L438 395.9 L441 396.9Z" fill="#dadada" stroke-width="0.8"/>
<circle cx="444" cy="415.5" r="16.5"/>
<circle cx="444" cy="415.5" r="7"/>
<circle cx="444" cy="415.5" r="2.5" stroke-width="0.8"/>
<line x1="425" y1="415.5" x2="464" y2="415.5" stroke-width="0.9"/>
<line x1="444" y1="396" x2="444" y2="435" stroke-width="0.9"/>
<line x1="447.9" y1="421.5" x2="454.6" y2="428.2"/>
<line x1="450" y1="419.4" x2="456.7" y2="426.1"/>
<line x1="438" y1="419.4" x2="431.3" y2="426.1"/>
<line x1="440.1" y1="421.5" x2="433.4" y2="428.2"/>
<line x1="440.1" y1="409.5" x2="433.4" y2="402.8"/>
<line x1="438" y1="411.6" x2="431.3" y2="404.9"/>
<line x1="450" y1="411.6" x2="456.7" y2="404.9"/>
<line x1="447.9" y1="409.5" x2="454.6" y2="402.8"/>
<circle cx="569.6" cy="392" r="17"/>
<line x1="549" y1="392" x2="590" y2="392" stroke-width="0.9"/>
<line x1="569.6" y1="372" x2="569.6" y2="413" stroke-width="0.9"/>
<path d="M567.3 381.5 L571.9 381.5 L571.9 389.7 L580.6 389.7 L580.6 394.3 L571.9 394.3 L571.9 402.5 L567.3 402.5 L567.3 394.3 L558.6 394.3 L558.6 389.7 L567.3 389.7Z"/>
<circle cx="569.6" cy="392" r="1.5" stroke-width="0.8"/>
<line x1="552.4" y1="392" x2="552.4" y2="459"/>
<line x1="587" y1="392" x2="587" y2="459"/>
<line x1="559" y1="392" x2="559" y2="436"/>
<line x1="579" y1="392" x2="579" y2="436"/>
<text x="561" y="425" font-size="9" textLength="12" lengthAdjust="spacingAndGlyphs">ref.</text>
<text x="561" y="433.6" font-size="10" textLength="15" lengthAdjust="spacingAndGlyphs">4.30</text>
<line x1="541" y1="435" x2="597" y2="435"/>
<path d="M559 435 L551 436.6 L551 433.4Z" fill="#dadada" stroke-width="0.8"/>
<path d="M579 435 L587 433.4 L587 436.6Z" fill="#dadada" stroke-width="0.8"/>
<text x="557" y="452.4" font-size="14" textLength="28" lengthAdjust="spacingAndGlyphs">Ø7.43</text>
<line x1="552.4" y1="454.4" x2="587" y2="454.4"/>
<path d="M552.4 454.4 L560.4 452.8 L560.4 456Z" fill="#dadada" stroke-width="0.8"/>
<path d="M587 454.4 L579 456 L579 452.8Z" fill="#dadada" stroke-width="0.8"/>
<text x="607.5" y="339.5" font-size="14" textLength="21" lengthAdjust="spacingAndGlyphs">2.65</text>
<line x1="606" y1="341.6" x2="672" y2="341.6"/>
<path d="M648 341.6 L640 343.2 L640 340Z" fill="#dadada" stroke-width="0.8"/>
<path d="M655 341.6 L663 340 L663 343.2Z" fill="#dadada" stroke-width="0.8"/>
<line x1="648" y1="336.5" x2="648" y2="459.6"/>
<line x1="655" y1="336.5" x2="655" y2="386"/>
<path d="M648 378 L661.6 386 L661.6 401 L648 409"/>
<path d="M648 382 Q655 386 657 393.5 Q655 401 648 405" />
<line x1="642" y1="393.5" x2="664" y2="393.5" stroke-width="0.9"/>
<path d="M633.6 419.4 A41 41 0 0 1 633.6 366.6"/>
<line x1="631.5" y1="365" x2="661.6" y2="390.6"/>
<line x1="631.5" y1="421" x2="661.6" y2="396"/>
<path d="M631.5 365 L628.2 372.5 L625.6 370.6Z" fill="#dadada" stroke-width="0.8"/>
<path d="M631.5 421 L625.6 415.4 L628.2 413.5Z" fill="#dadada" stroke-width="0.8"/>
<text transform="translate(625.5 386) rotate(90)" font-size="13" textLength="15" lengthAdjust="spacingAndGlyphs">87°</text>
<path d="M663 388.2 L666 385.2 L669 388.2 L672 385.2 L675 388.2 L678 385.2 L681 388.2 L684 385.2 L687 388.2 L690 385.2 L693 388.2 L696 385.2 L699 388.2 L702 385.2 L705 388.2 L708 385.2 L711 388.2 L714 385.2 L717 388.2 L720 385.2 L723 388.2 L726 385.2 L729 388.2 L732 385.2 L735 388.2 L738 385.2 L741 388.2 L744 385.2 L747 388.2 L750 385.2 L753 388.2 L756 385.2 L759 388.2"/>
<path d="M664.5 398.5 L667.5 401.5 L670.5 398.5 L673.5 401.5 L676.5 398.5 L679.5 401.5 L682.5 398.5 L685.5 401.5 L688.5 398.5 L691.5 401.5 L694.5 398.5 L697.5 401.5 L700.5 398.5 L703.5 401.5 L706.5 398.5 L709.5 401.5 L712.5 398.5 L715.5 401.5 L718.5 398.5 L721.5 401.5 L724.5 398.5 L727.5 401.5 L730.5 398.5 L733.5 401.5 L736.5 398.5 L739.5 401.5 L742.5 398.5 L745.5 401.5 L748.5 398.5 L751.5 401.5 L754.5 398.5 L757.5 401.5 L760.5 398.5"/>
<line x1="663" y1="388.2" x2="759" y2="388.2" stroke-width="0.9"/>
<line x1="664.5" y1="398.5" x2="760.5" y2="398.5" stroke-width="0.9"/>
<line x1="666" y1="385.2" x2="670.5" y2="401.5" stroke-width="1.3"/>
<line x1="663" y1="388.2" x2="667.5" y2="398.5" stroke-width="1.3"/>
<line x1="665.2" y1="388.2" x2="663" y2="398.5" stroke-width="0.8" opacity="0.55"/>
<line x1="672" y1="385.2" x2="676.5" y2="401.5" stroke-width="1.3"/>
<line x1="669" y1="388.2" x2="673.5" y2="398.5" stroke-width="1.3"/>
<line x1="671.2" y1="388.2" x2="669" y2="398.5" stroke-width="0.8" opacity="0.55"/>
<line x1="678" y1="385.2" x2="682.5" y2="401.5" stroke-width="1.3"/>
<line x1="675" y1="388.2" x2="679.5" y2="398.5" stroke-width="1.3"/>
<line x1="677.2" y1="388.2" x2="675" y2="398.5" stroke-width="0.8" opacity="0.55"/>
<line x1="684" y1="385.2" x2="688.5" y2="401.5" stroke-width="1.3"/>
<line x1="681" y1="388.2" x2="685.5" y2="398.5" stroke-width="1.3"/>
<line x1="683.2" y1="388.2" x2="681" y2="398.5" stroke-width="0.8" opacity="0.55"/>
<line x1="690" y1="385.2" x2="694.5" y2="401.5" stroke-width="1.3"/>
<line x1="687" y1="388.2" x2="691.5" y2="398.5" stroke-width="1.3"/>
<line x1="689.2" y1="388.2" x2="687" y2="398.5" stroke-width="0.8" opacity="0.55"/>
<line x1="696" y1="385.2" x2="700.5" y2="401.5" stroke-width="1.3"/>
<line x1="693" y1="388.2" x2="697.5" y2="398.5" stroke-width="1.3"/>
<line x1="695.2" y1="388.2" x2="693" y2="398.5" stroke-width="0.8" opacity="0.55"/>
<line x1="702" y1="385.2" x2="706.5" y2="401.5" stroke-width="1.3"/>
<line x1="699" y1="388.2" x2="703.5" y2="398.5" stroke-width="1.3"/>
<line x1="701.2" y1="388.2" x2="699" y2="398.5" stroke-width="0.8" opacity="0.55"/>
<line x1="708" y1="385.2" x2="712.5" y2="401.5" stroke-width="1.3"/>
<line x1="705" y1="388.2" x2="709.5" y2="398.5" stroke-width="1.3"/>
<line x1="707.2" y1="388.2" x2="705" y2="398.5" stroke-width="0.8" opacity="0.55"/>
<line x1="714" y1="385.2" x2="718.5" y2="401.5" stroke-width="1.3"/>
<line x1="711" y1="388.2" x2="715.5" y2="398.5" stroke-width="1.3"/>
<line x1="713.2" y1="388.2" x2="711" y2="398.5" stroke-width="0.8" opacity="0.55"/>
<line x1="720" y1="385.2" x2="724.5" y2="401.5" stroke-width="1.3"/>
<line x1="717" y1="388.2" x2="721.5" y2="398.5" stroke-width="1.3"/>
<line x1="719.2" y1="388.2" x2="717" y2="398.5" stroke-width="0.8" opacity="0.55"/>
<line x1="726" y1="385.2" x2="730.5" y2="401.5" stroke-width="1.3"/>
<line x1="723" y1="388.2" x2="727.5" y2="398.5" stroke-width="1.3"/>
<line x1="725.2" y1="388.2" x2="723" y2="398.5" stroke-width="0.8" opacity="0.55"/>
<line x1="732" y1="385.2" x2="736.5" y2="401.5" stroke-width="1.3"/>
<line x1="729" y1="388.2" x2="733.5" y2="398.5" stroke-width="1.3"/>
<line x1="731.2" y1="388.2" x2="729" y2="398.5" stroke-width="0.8" opacity="0.55"/>
<line x1="738" y1="385.2" x2="742.5" y2="401.5" stroke-width="1.3"/>
<line x1="735" y1="388.2" x2="739.5" y2="398.5" stroke-width="1.3"/>
<line x1="737.2" y1="388.2" x2="735" y2="398.5" stroke-width="0.8" opacity="0.55"/>
<line x1="744" y1="385.2" x2="748.5" y2="401.5" stroke-width="1.3"/>
<line x1="741" y1="388.2" x2="745.5" y2="398.5" stroke-width="1.3"/>
<line x1="743.2" y1="388.2" x2="741" y2="398.5" stroke-width="0.8" opacity="0.55"/>
<line x1="750" y1="385.2" x2="754.5" y2="401.5" stroke-width="1.3"/>
<line x1="747" y1="388.2" x2="751.5" y2="398.5" stroke-width="1.3"/>
<line x1="749.2" y1="388.2" x2="747" y2="398.5" stroke-width="0.8" opacity="0.55"/>
<line x1="756" y1="385.2" x2="760.5" y2="401.5" stroke-width="1.3"/>
<line x1="753" y1="388.2" x2="757.5" y2="398.5" stroke-width="1.3"/>
<line x1="755.2" y1="388.2" x2="753" y2="398.5" stroke-width="0.8" opacity="0.55"/>
<path d="M681.2 382 A19.5 19.5 0 0 1 720 382"/>
<line x1="700.6" y1="384" x2="688.9" y2="363.6"/>
<line x1="700.6" y1="384" x2="712.4" y2="363.6"/>
<path d="M690.9 367.1 L684.7 372.5 L683.1 369.7Z" fill="#dadada" stroke-width="0.8"/>
<path d="M710.4 367.1 L718.1 369.7 L716.5 372.5Z" fill="#dadada" stroke-width="0.8"/>
<text x="692.8" y="363.6" font-size="14" textLength="11.5" lengthAdjust="spacingAndGlyphs">60</text>
<text x="704.6" y="359.1" font-size="9" textLength="4" lengthAdjust="spacingAndGlyphs">°</text>
<line x1="731.5" y1="336.5" x2="731.5" y2="416"/>
<path d="M731.5 386 L729.9 378 L733.1 378Z" fill="#dadada" stroke-width="0.8"/>
<path d="M731.5 401 L733.1 409 L729.9 409Z" fill="#dadada" stroke-width="0.8"/>
<text transform="translate(730.2 368) rotate(-90)" font-size="14" textLength="28.5" lengthAdjust="spacingAndGlyphs">Ø2.57</text>
<text x="733" y="414.6" font-size="14" textLength="21" lengthAdjust="spacingAndGlyphs">1.42</text>
<line x1="707.5" y1="401" x2="707.5" y2="420"/>
<line x1="714.5" y1="401" x2="714.5" y2="420"/>
<line x1="691" y1="416.7" x2="754" y2="416.7"/>
<path d="M707.5 416.7 L699.5 418.3 L699.5 415.1Z" fill="#dadada" stroke-width="0.8"/>
<path d="M714.5 416.7 L722.5 415.1 L722.5 418.3Z" fill="#dadada" stroke-width="0.8"/>
<path d="M759.6 343 L772.1 343" stroke-width="1.0"/>
<path d="M765.9 343 L765.9 346" stroke-width="1.0"/>
<path d="M760.6 354.6 L760.6 346 L771.1 346 L771.1 354.4 L769.9 354.4" stroke-width="1.0"/>
<path d="M763.4 346.2 L763.4 349.1 L762.1 353.4" stroke-width="1.0"/>
<path d="M763.4 349.1 L764.9 351.5" stroke-width="1.0"/>
<path d="M768.1 346.2 L768.1 349.1 L766.9 353.4" stroke-width="1.0"/>
<path d="M768.1 349.1 L769.6 351.5" stroke-width="1.0"/>
<path d="M760.9 348 L770.9 348" stroke-width="1.0"/>
<path d="M776.6 342.3 L773.9 347.8" stroke-width="1.0"/>
<path d="M775.5 345.4 L775.5 354.6" stroke-width="1.0"/>
<path d="M777.9 346 L777.9 351.5" stroke-width="1.0"/>
<path d="M780.8 342.3 L779.1 345.4" stroke-width="1.0"/>
<path d="M780.1 343.9 L785.8 343.9 L782 347.2" stroke-width="1.0"/>
<path d="M781.4 344.8 L786.4 347.2" stroke-width="1.0"/>
<path d="M779.1 349.7 L786.4 349.7" stroke-width="1.0"/>
<path d="M782.8 347.5 L782.8 354.6" stroke-width="1.0"/>
<path d="M782.8 349.9 L779.5 353.4" stroke-width="1.0"/>
<path d="M782.8 349.9 L786.1 353.4" stroke-width="1.0"/>
<path d="M790.9 342.3 L788.9 345.5 L791.9 346.2" stroke-width="1.0"/>
<path d="M792.2 344.3 L788.7 349.2 L792.7 348.7" stroke-width="1.0"/>
<path d="M790.7 348.9 L790.7 354.6" stroke-width="1.0"/>
<path d="M788.9 350.9 L788.2 353.4" stroke-width="1.0"/>
<path d="M792.2 350.9 L792.9 353.4" stroke-width="1.0"/>
<path d="M796.3 342.3 L795.7 343.8" stroke-width="1.0"/>
<path d="M794.2 343.8 L800.2 343.8 L800.2 348.4 L794.2 348.4 L794.2 343.8" stroke-width="1.0"/>
<path d="M794.2 346.1 L800.2 346.1" stroke-width="1.0"/>
<path d="M797.2 348.4 L797.2 354.6 L796.2 354.1" stroke-width="1.0"/>
<path d="M794.4 350.4 L796.2 351.2" stroke-width="1.0"/>
<path d="M793.9 353.9 L796.4 351.9" stroke-width="1.0"/>
<path d="M797.7 349.9 L800.7 354.4" stroke-width="1.0"/>
<path d="M800.4 349.4 L798.4 351.6" stroke-width="1.0"/>
<path d="M802.5 346 L807 346" stroke-width="1.0"/>
<path d="M804.7 342.3 L804.7 354.6" stroke-width="1.0"/>
<path d="M804.7 346.2 L802.5 351.2" stroke-width="1.0"/>
<path d="M804.7 346.7 L806.7 349.7" stroke-width="1.0"/>
<path d="M807.7 343.5 L815 343.5" stroke-width="1.0"/>
<path d="M809.5 342.3 L809.5 348" stroke-width="1.0"/>
<path d="M813.2 342.3 L813.2 348" stroke-width="1.0"/>
<path d="M808.2 344.8 L814.5 344.8 L814.5 348 L808.2 348 L808.2 344.8" stroke-width="1.0"/>
<path d="M808.2 346.4 L814.5 346.4" stroke-width="1.0"/>
<path d="M808.7 349.2 L814 349.2 L814 354.6 L808.7 354.6 L808.7 349.2" stroke-width="1.0"/>
<path d="M808.7 351.9 L814 351.9" stroke-width="1.0"/>
<text x="894" y="347" font-size="9.8" style="font-family:Liberation Sans">8</text>
<path d="M901.6 339.5 L900 342.9" stroke-width="0.8"/>
<path d="M901 341.4 L901 347" stroke-width="0.8"/>
<path d="M902.4 341.8 L902.4 345.1" stroke-width="0.8"/>
<path d="M904.1 339.5 L903.1 341.4" stroke-width="0.8"/>
<path d="M903.7 340.5 L907 340.5 L904.8 342.5" stroke-width="0.8"/>
<path d="M904.4 341 L907.4 342.5" stroke-width="0.8"/>
<path d="M903.1 344 L907.4 344" stroke-width="0.8"/>
<path d="M905.3 342.6 L905.3 347" stroke-width="0.8"/>
<path d="M905.3 344.1 L903.3 346.2" stroke-width="0.8"/>
<path d="M905.3 344.1 L907.3 346.2" stroke-width="0.8"/>
<path d="M908.5 341.8 L911.2 341.8" stroke-width="0.8"/>
<path d="M909.8 339.5 L909.8 347" stroke-width="0.8"/>
<path d="M909.8 341.9 L908.5 344.9" stroke-width="0.8"/>
<path d="M909.8 342.2 L911 344" stroke-width="0.8"/>
<path d="M911.8 340.4 L915.8 340.4" stroke-width="0.8"/>
<path d="M913.8 339.5 L913.8 341.9" stroke-width="0.8"/>
<path d="M911.5 341.9 L915.9 341.9" stroke-width="0.8"/>
<path d="M912.9 342.6 L911.9 343.7" stroke-width="0.8"/>
<path d="M914.6 342.6 L915.8 343.7" stroke-width="0.8"/>
<path d="M913.1 343.9 L911.9 345.2" stroke-width="0.8"/>
<path d="M912.8 344.4 L915.2 344.4 L912.2 347" stroke-width="0.8"/>
<path d="M913.2 345.5 L915.9 347" stroke-width="0.8"/>
<path d="M918.6 339.5 L917.4 341.4 L919.2 341.9" stroke-width="0.8"/>
<path d="M919.4 340.7 L917.3 343.7 L919.7 343.4" stroke-width="0.8"/>
<path d="M918.5 343.6 L918.5 347" stroke-width="0.8"/>
<path d="M917.4 344.8 L917 346.2" stroke-width="0.8"/>
<path d="M919.4 344.8 L919.8 346.2" stroke-width="0.8"/>
<path d="M921.8 339.5 L921.4 340.4" stroke-width="0.8"/>
<path d="M920.6 340.4 L924.1 340.4 L924.1 343.2 L920.6 343.2 L920.6 340.4" stroke-width="0.8"/>
<path d="M920.6 341.8 L924.1 341.8" stroke-width="0.8"/>
<path d="M922.3 343.2 L922.3 347 L921.7 346.7" stroke-width="0.8"/>
<path d="M920.7 344.4 L921.7 344.9" stroke-width="0.8"/>
<path d="M920.4 346.6 L921.9 345.4" stroke-width="0.8"/>
<path d="M922.6 344.1 L924.4 346.9" stroke-width="0.8"/>
<path d="M924.3 343.9 L923.1 345.2" stroke-width="0.8"/>
<path d="M894 354.7 L896.9 354.7" stroke-width="0.8"/>
<path d="M895.4 352.7 L895.4 358.4" stroke-width="0.8"/>
<path d="M894 359.2 L897.1 357.9" stroke-width="0.8"/>
<path d="M898.4 351.5 L897.6 353.9" stroke-width="0.8"/>
<path d="M897.9 353.1 L902.2 353.1 L901.8 359.5 L900.8 359.2" stroke-width="0.8"/>
<path d="M898.9 354.7 L900 355.5" stroke-width="0.8"/>
<path d="M898.4 357.6 L900.8 356.5" stroke-width="0.8"/>
<path d="M905.8 351.5 L903.9 354.7" stroke-width="0.8"/>
<path d="M904.8 353.1 L911.6 353.1 L911.2 359.5 L910.1 359.2" stroke-width="0.8"/>
<path d="M906.1 355 L907.9 356" stroke-width="0.8"/>
<path d="M905.3 358.2 L909.2 356.9" stroke-width="0.8"/>
<path d="M916.6 351.5 L913.2 355.5" stroke-width="0.8"/>
<path d="M918.3 351.5 L921.7 355.5" stroke-width="0.8"/>
<path d="M914.7 356 L920.2 356 L919.8 359.5 L918.8 359.2" stroke-width="0.8"/>
<path d="M917.1 356 L916.4 358.4 L914.6 359.5" stroke-width="0.8"/>
<path d="M922.8 353.6 L931.3 353.6" stroke-width="0.8"/>
<path d="M927.4 351.5 L923.1 357.4" stroke-width="0.8"/>
<path d="M925.4 355.7 L925.4 359.5" stroke-width="0.8"/>
<path d="M925.4 355.7 L930.6 355.7 L930.6 358.9 L929.8 358.9" stroke-width="0.8"/>
<path d="M928 354.4 L928 359.5" stroke-width="0.8"/>
<path d="M740.5 383 L754 357.5 L817 357.5 L881 388"/>
<path d="M740.5 383 L742.8 375.2 L745.7 376.7Z" fill="#dadada" stroke-width="0.8"/>
<path d="M881 388 L873.1 386 L874.5 383.1Z" fill="#dadada" stroke-width="0.8"/>
<text x="761.6" y="374" font-size="14" textLength="21" lengthAdjust="spacingAndGlyphs">6.36</text>
<line x1="761.6" y1="375.5" x2="782.6" y2="375.5"/>
<path d="M761.6 375.5 L769.6 373.9 L769.6 377.1Z" fill="#dadada" stroke-width="0.8"/>
<path d="M782.6 375.5 L774.6 377.1 L774.6 373.9Z" fill="#dadada" stroke-width="0.8"/>
<line x1="761.6" y1="370" x2="761.6" y2="401"/>
<line x1="782.6" y1="370" x2="782.6" y2="458"/>
<line x1="760" y1="385.5" x2="833.6" y2="385.5"/>
<line x1="760" y1="401" x2="833.6" y2="401"/>
<line x1="756" y1="387.6" x2="805" y2="387.6"/>
<line x1="760" y1="398.6" x2="805" y2="398.6"/>
<path d="M764 389.3 L780 389.3 Q783 390.5 781 391.5" />
<path d="M766 395.3 L780 395.3 Q783 396.5 781 397.5" />
<line x1="767" y1="392.8" x2="786" y2="392.8" stroke-width="0.9"/>
<line x1="805" y1="369.5" x2="805" y2="450.6"/>
<path d="M805 385.5 L803.4 377.5 L806.6 377.5Z" fill="#dadada" stroke-width="0.8"/>
<path d="M805 401 L806.6 409 L803.4 409Z" fill="#dadada" stroke-width="0.8"/>
<text transform="translate(800.8 449) rotate(-90)" font-size="14" textLength="31.4" lengthAdjust="spacingAndGlyphs">Ø3.15</text>
<line x1="829" y1="369.5" x2="829" y2="450.6"/>
<path d="M829 385.5 L827.4 377.5 L830.6 377.5Z" fill="#dadada" stroke-width="0.8"/>
<path d="M829 401 L830.6 409 L827.4 409Z" fill="#dadada" stroke-width="0.8"/>
<text transform="translate(824.8 449) rotate(-90)" font-size="14" textLength="31.4" lengthAdjust="spacingAndGlyphs">Ø3.86</text>
<text x="606" y="439.6" font-size="14" textLength="21" lengthAdjust="spacingAndGlyphs">3.32</text>
<line x1="660" y1="401" x2="660" y2="446"/>
<line x1="604" y1="441.6" x2="676.6" y2="441.6"/>
<path d="M648 441.6 L640 443.2 L640 440Z" fill="#dadada" stroke-width="0.8"/>
<path d="M660 441.6 L668 440 L668 443.2Z" fill="#dadada" stroke-width="0.8"/>
<text x="703" y="452" font-size="14" textLength="25.5" lengthAdjust="spacingAndGlyphs">24.51</text>
<line x1="648" y1="454" x2="782.6" y2="454"/>
<path d="M648 454 L656 452.4 L656 455.6Z" fill="#dadada" stroke-width="0.8"/>
<path d="M782.6 454 L774.6 455.6 L774.6 452.4Z" fill="#dadada" stroke-width="0.8"/>
<path d="M889 379 L893 362 L933 362"/>
<path d="M889 379 L889.3 370.8 L892.4 371.6Z" fill="#dadada" stroke-width="0.8"/>
<circle cx="894.5" cy="393" r="16"/>
<circle cx="894.5" cy="393" r="6"/>
<line x1="876" y1="393" x2="914" y2="393" stroke-width="0.9"/>
<line x1="894.5" y1="372" x2="894.5" y2="412" stroke-width="0.9"/>
<line x1="900.5" y1="393" x2="910.5" y2="393" stroke-width="3"/>
<line x1="894.5" y1="399" x2="894.5" y2="409" stroke-width="3"/>
<line x1="888.5" y1="393" x2="878.5" y2="393" stroke-width="3"/>
<line x1="894.5" y1="387" x2="894.5" y2="377" stroke-width="3"/>
<line x1="897.8" y1="398.2" x2="904.9" y2="405.2"/>
<line x1="899.7" y1="396.3" x2="906.7" y2="403.4"/>
<line x1="889.3" y1="396.3" x2="882.3" y2="403.4"/>
<line x1="891.2" y1="398.2" x2="884.1" y2="405.2"/>
<line x1="891.2" y1="387.8" x2="884.1" y2="380.8"/>
<line x1="889.3" y1="389.7" x2="882.3" y2="382.6"/>
<line x1="899.7" y1="389.7" x2="906.7" y2="382.6"/>
<line x1="897.8" y1="387.8" x2="904.9" y2="380.8"/>
</g>
</svg>
</body></html>
